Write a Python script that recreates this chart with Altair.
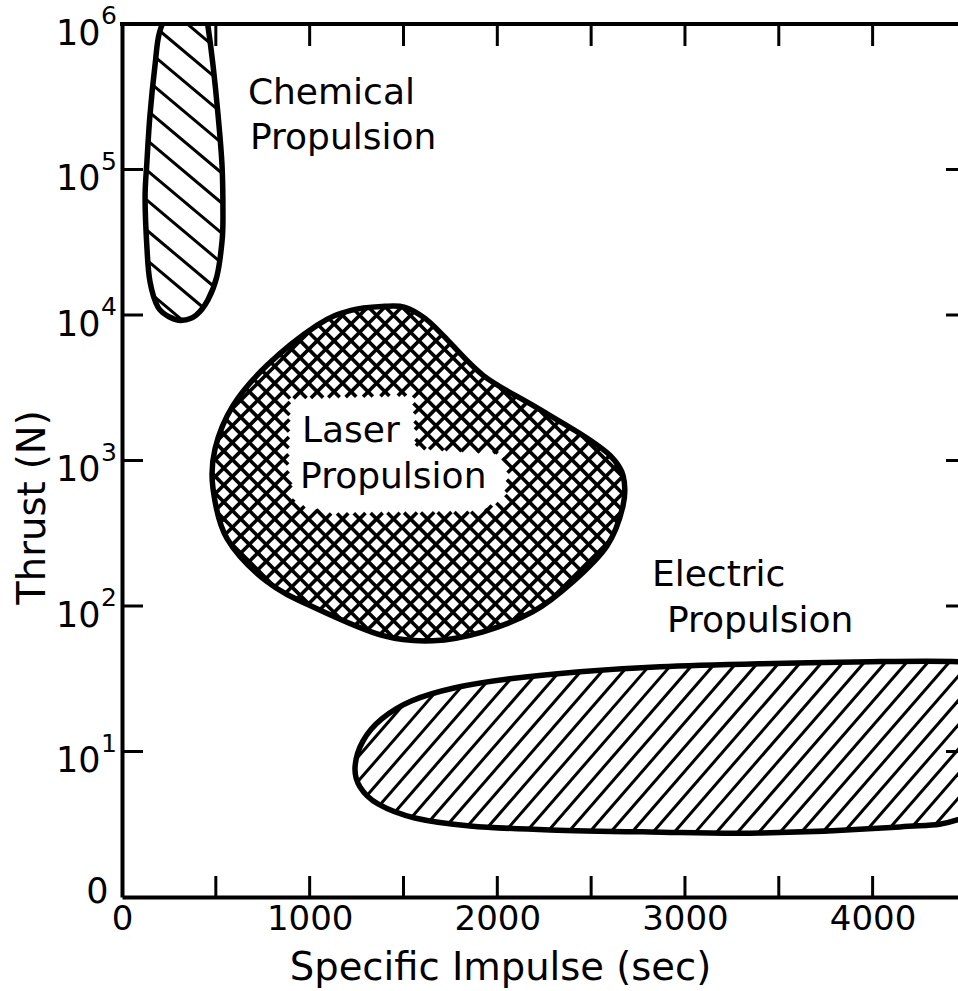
import numpy as np
import pandas as pd
import altair as alt

# ---------------- data ----------------
x_label_values = [0, 1000, 2000, 3000, 4000]
x_tick_values = [500, 1000, 1500, 2000, 2500, 3000, 3500, 4000]
y_label_values = [1, 10, 100, 1000, 10000, 100000, 1000000]
y_tick_values = [10, 100, 1000, 10000, 100000]
y_exp_values = [10, 100, 1000, 10000, 100000, 1000000]
y_exp_text = ["1", "2", "3", "4", "5", "6"]

# Chemical propulsion region outline (Isp sec, thrust N)
chem_x = [320, 394, 458, 506, 533, 538, 533, 512, 485, 458, 437, 362, 277, 202, 176, 149, 133, 123,
          133, 149, 192, 256]
chem_y = [9190, 9950, 12700, 18500, 32000, 48500, 107000, 236000, 522000, 969000, 1.4e6, 1.58e6, 1.4e6,
          895000, 522000, 236000, 114000, 63500, 28800, 17000, 11300, 9650]

# Laser propulsion region outline
laser_x = [1402, 1508, 1615, 1711, 1924, 2190, 2457, 2601, 2670, 2670, 2585, 2403, 2190, 1924, 1657,
           1391, 1039, 773, 560, 485, 496, 592, 773, 1039, 1220]
laser_y = [11480, 11300, 9480, 7240, 3850, 2390, 1485, 1082, 788, 490, 260, 147, 91.4, 66.5, 57.7,
           62.5, 95.7, 147, 290, 641, 1208, 2390, 4510, 8490, 10770]

# white clearing around the "Laser Propulsion" label
hole_x = [895, 1551, 1567, 2014, 2057, 2041, 1908, 1108, 922, 885]
hole_y = [2670, 2798, 1208, 1117, 881, 547, 445, 432, 506, 881]

# Electric propulsion region outline
elec_x = [1242, 1284, 1386, 1545, 1775, 2068, 2441, 2867, 3400, 3986, 4455, 4652, 4785, 4828, 4759,
          4455, 4146, 3400, 2814, 2281, 1855, 1561, 1364, 1268]
elec_y = [7.84, 11.8, 16.8, 22.3, 27.4, 31.6, 35.3, 38.2, 40.1, 41.4, 41.4, 38.2, 26.1, 12.2, 5.53,
          3.4, 3.03, 2.75, 2.80, 2.89, 3.08, 3.49, 4.36, 5.71]

label_text = ["Chemical", "Propulsion", "Laser", "Propulsion", "Electric", "Propulsion"]
label_x = [671, 682, 959, 949, 2824, 2904]
label_y = [335000, 164000, 1607, 776, 164, 79.3]

# ---------------- layout ----------------
W, H = 836, 873
TOP = 24
X_MAX = 4455
DECADES = 6
FONT = "DejaVu Sans"


def to_px(xv, yv):
    xv = np.asarray(xv, float)
    yv = np.asarray(yv, float)
    return np.column_stack([xv / X_MAX * W, H - np.log10(yv) / DECADES * H])


def to_data(p):
    return p[0] / W * X_MAX, 10 ** ((H - p[1]) / H * DECADES)


def cardinal_closed(P, n=24):
    m = len(P)
    out = []
    for i in range(m):
        p0, p1, p2, p3 = P[(i - 1) % m], P[i], P[(i + 1) % m], P[(i + 2) % m]
        c1 = p1 + (p2 - p0) / 6.0
        c2 = p2 - (p3 - p1) / 6.0
        for t in np.linspace(0, 1, n, endpoint=False):
            u = 1 - t
            out.append(u ** 3 * p1 + 3 * u * u * t * c1 + 3 * u * t * t * c2 + t ** 3 * p2)
    return np.array(out)


def hatch(polys, angle, spacing, phase=0.0):
    th = np.radians(angle)
    d = np.array([np.cos(th), np.sin(th)])
    nrm = np.array([-np.sin(th), np.cos(th)])
    proj = np.concatenate([P @ nrm for P in polys])
    c = np.floor(proj.min() / spacing) * spacing + phase
    rows = []
    while c < proj.max():
        ts = []
        for P in polys:
            Q = np.roll(P, -1, axis=0)
            a = P @ nrm - c
            b = Q @ nrm - c
            m = (a > 0) != (b > 0)
            t = a[m] / (a[m] - b[m])
            X_ = P[m] + (Q[m] - P[m]) * t[:, None]
            ts.extend(list(X_ @ d))
        ts.sort()
        for k in range(0, len(ts) - 1, 2):
            x1, y1 = to_data(c * nrm + ts[k] * d)
            x2, y2 = to_data(c * nrm + ts[k + 1] * d)
            rows.append({"x": x1, "y": y1, "x2": x2, "y2": y2})
        c += spacing
    return rows


chem_curve = cardinal_closed(to_px(chem_x, chem_y))
laser_curve = cardinal_closed(to_px(laser_x, laser_y))
elec_curve = cardinal_closed(to_px(elec_x, elec_y))
hole_poly = to_px(hole_x, hole_y)

hatch_thin = pd.DataFrame(
    hatch([chem_curve], 40, 23, 4) + hatch([elec_curve], -49, 16, 3)
)
hatch_cross = pd.DataFrame(
    hatch([laser_curve, hole_poly], 45, 12, 2) + hatch([laser_curve, hole_poly], -45, 12, 2)
)

outline = pd.concat([
    pd.DataFrame({"shape": "chem", "i": range(len(chem_x)), "x": chem_x, "y": chem_y}),
    pd.DataFrame({"shape": "laser", "i": range(len(laser_x)), "x": laser_x, "y": laser_y}),
    pd.DataFrame({"shape": "elec", "i": range(len(elec_x)), "x": elec_x, "y": elec_y}),
])
labels = pd.DataFrame({"t": label_text, "x": label_x, "y": label_y})
xt = pd.DataFrame({"v": x_tick_values})
yt = pd.DataFrame({"v": y_tick_values})
ye = pd.DataFrame({"v": y_exp_values, "t": y_exp_text})
one = pd.DataFrame({"a": [0]})

xs = alt.Scale(domain=[0, X_MAX], nice=False, zero=False)
ys = alt.Scale(type="log", domain=[1, 1e6], nice=False)

x_axis = alt.Axis(values=x_label_values, format="d", title="Specific Impulse (sec)", ticks=False, grid=False,
                  domainWidth=4, domainColor="black", labelFont=FONT, labelFontSize=34, labelColor="black",
                  labelPadding=5, labelFlush=False, labelOverlap=False, titleFont=FONT, titleFontSize=38.5,
                  titleFontWeight="normal", titleColor="black", titleX=378, titleY=70,
                  titleBaseline="middle", titleAlign="center")
y_axis = alt.Axis(values=y_label_values, labelExpr="datum.value == 1 ? '0' : '10'", title="Thrust (N)",
                  ticks=False, grid=False, domainWidth=4, domainColor="black", labelFont=FONT,
                  labelFontSize=35, labelColor="black", labelFlush=False, labelOverlap=False,
                  labelPadding={"condition": {"test": "datum.value == 1", "value": 14}, "value": 22},
                  labelOffset={"condition": {"test": "datum.value == 1", "value": -6}, "value": 9},
                  titleFont=FONT, titleFontSize=38.5, titleFontWeight="normal", titleColor="black",
                  titleX=-90, titleY=483, titleBaseline="middle", titleAlign="center", titleAngle=270)


def X(field):
    return alt.X(field, scale=xs, axis=x_axis)


def Y(field):
    return alt.Y(field, scale=ys, axis=y_axis)


outline_layer = alt.Chart(outline).mark_line(
    color="black", strokeWidth=5.5, interpolate="cardinal-closed", clip=True
).encode(x=X("x:Q"), y=Y("y:Q"), detail="shape:N", order="i:Q")

thin_layer = alt.Chart(hatch_thin).mark_rule(color="black", strokeWidth=3, clip=True).encode(
    x=X("x:Q"), y=Y("y:Q"), x2="x2:Q", y2="y2:Q"
)
cross_layer = alt.Chart(hatch_cross).mark_rule(color="black", strokeWidth=3.6, clip=True).encode(
    x=X("x:Q"), y=Y("y:Q"), x2="x2:Q", y2="y2:Q"
)

text_layer = alt.Chart(labels).mark_text(
    align="left", baseline="middle", font=FONT, fontSize=36, color="black"
).encode(x=X("x:Q"), y=Y("y:Q"), text="t:N")

exp_layer = alt.Chart(ye).mark_text(
    align="right", baseline="middle", font=FONT, fontSize=25, color="black", dy=-8
).encode(y=Y("v:Q"), x=alt.value(-5), text="t:N")

tick_bottom = alt.Chart(xt).mark_rule(color="black", strokeWidth=3).encode(
    x=X("v:Q"), y=alt.value(H), y2=alt.value(H - 21)
)
tick_top = alt.Chart(xt).mark_rule(color="black", strokeWidth=3).encode(
    x=X("v:Q"), y=alt.value(0), y2=alt.value(22)
)
tick_left = alt.Chart(yt).mark_rule(color="black", strokeWidth=3).encode(
    y=Y("v:Q"), x=alt.value(0), x2=alt.value(21)
)
tick_right = alt.Chart(yt).mark_rule(color="black", strokeWidth=3).encode(
    y=Y("v:Q"), x=alt.value(W - 12), x2=alt.value(W)
)
top_border = alt.Chart(one).mark_rule(color="black", strokeWidth=4).encode(
    x=alt.value(-2), x2=alt.value(W), y=alt.value(0)
)

chart = alt.layer(
    outline_layer, thin_layer, cross_layer, text_layer, exp_layer,
    tick_bottom, tick_top, tick_left, tick_right, top_border
).properties(
    width=W, height=H,
    autosize=alt.AutoSizeParams(type="none"),
    padding={"left": 122, "top": TOP, "right": 0, "bottom": 991 - TOP - H},
).configure_view(stroke="transparent").configure(background="white")

chart.save("out.html", embed_options={"renderer": "svg", "actions": False})
